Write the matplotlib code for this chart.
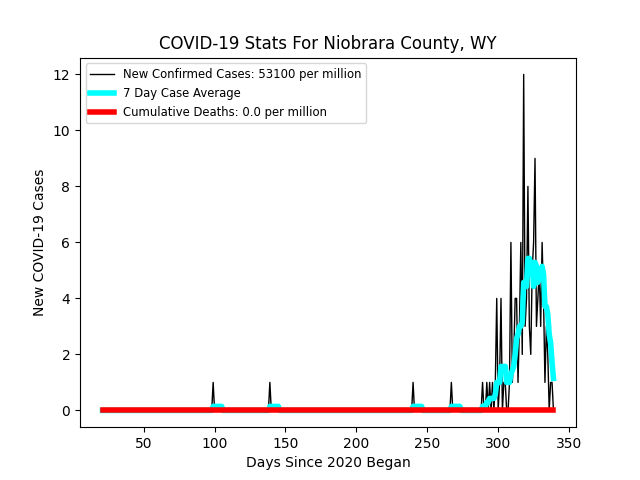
import numpy as np
import pandas as pd
import matplotlib
matplotlib.use("Agg")
import matplotlib.pyplot as plt

first_day = 21
last_day = 339

# Days with non-zero new confirmed cases and their counts
case_days = [99, 139, 240, 267,
             289, 292, 294, 296, 298, 299, 301, 302, 304, 305, 308,
             309, 310, 311, 312, 313, 314, 315, 316, 317, 318, 319, 320,
             321, 322, 323, 324, 325, 326, 327, 328, 329, 330, 331, 332,
             333, 334, 335, 337, 338]
case_counts = [1, 1, 1, 1,
               1, 1, 1, 1, 1, 4, 1, 4, 1, 1, 1,
               6, 1, 2, 4, 4, 1, 3, 6, 2, 12, 3, 4,
               8, 3, 2, 5, 6, 9, 3, 4, 5, 3, 6, 4,
               1, 3, 2, 1, 1]
cases_per_million = 53100
deaths_per_million = 0.0

days = np.arange(first_day, last_day + 1)
cases = pd.Series(0.0, index=days)
cases.loc[case_days] = case_counts
avg7 = cases.rolling(7, min_periods=1).mean()
deaths = np.zeros(len(days))

fig, ax = plt.subplots(figsize=(6.4, 4.8), dpi=100)
ax.plot(days, cases.values, color="black", lw=1,
        label=f"New Confirmed Cases: {cases_per_million} per million")
ax.plot(days, avg7.values, color="cyan", lw=4, label="7 Day Case Average")
ax.plot(days, deaths, color="red", lw=4,
        label=f"Cumulative Deaths: {deaths_per_million} per million")
ax.set_title("COVID-19 Stats For Niobrara County, WY")
ax.set_xlabel("Days Since 2020 Began")
ax.set_ylabel("New COVID-19 Cases")
ax.set_yticks(np.arange(0, 13, 2))
ax.legend(loc="upper left", fontsize="small")
fig.savefig("out.png")
